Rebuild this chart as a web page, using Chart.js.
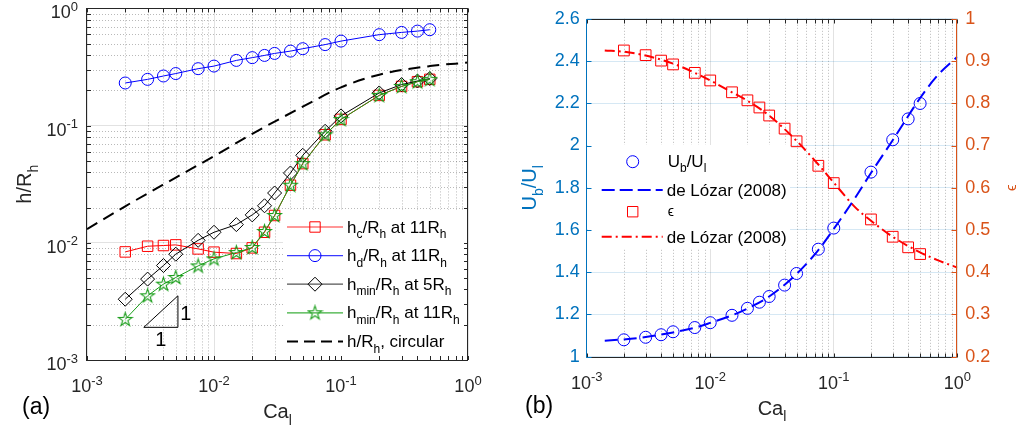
<!DOCTYPE html>
<html><head><meta charset="utf-8">
<script src="https://cdn.jsdelivr.net/npm/chart.js@4.4.1/dist/chart.umd.min.js"></script>
<style>
html,body{margin:0;padding:0;background:#fff;}
#wrap{position:relative;width:1019px;height:433px;background:#fff;}
canvas{position:absolute;left:0;top:0;}
</style></head><body>
<div id="wrap"><canvas id="ca" width="1019" height="433"></canvas><canvas id="cb" width="1019" height="433"></canvas></div>
<script>
const FONT = '"Liberation Sans", Arial, sans-serif';
const AX = '#262626';
const BLUE_AX = '#0072BD';
const ORANGE_AX = '#D95319';

// ---------- Panel (a) data ----------
const caA = [0.002,0.003,0.004,0.005,0.0075,0.01,0.015,0.02,0.025,0.03,0.04,0.05,0.075,0.1,0.2,0.3,0.4,0.5];
const hcA = [0.00836,0.00935,0.00948,0.0096,0.00887,0.00832,0.0081,0.00905,0.0123,0.0171,0.031,0.0474,0.0835,0.113,0.181,0.216,0.237,0.248];
const hdA = [0.231,0.248,0.265,0.278,0.306,0.322,0.360,0.380,0.397,0.413,0.432,0.453,0.491,0.526,0.597,0.624,0.640,0.658];
const hmin5A = [0.0033,0.0049,0.0064,0.0080,0.0105,0.0123,0.0143,0.0173,0.0207,0.0266,0.0394,0.0558,0.0894,0.121,0.190,0.224,0.240,0.252];
const hmin11A = [0.00222,0.00353,0.00444,0.00506,0.00635,0.0073,0.00826,0.00912,0.0125,0.0171,0.031,0.0474,0.0835,0.113,0.181,0.216,0.237,0.248];
const caCirc = [0.001,0.002,0.005,0.01,0.02,0.05,0.1,0.2,0.5,1.0];
const hCirc = [0.0131,0.0205,0.036,0.0549,0.085,0.145,0.212,0.272,0.322,0.345];
const triX = [0.0028,0.0052,0.0052,0.0028];
const triY = [0.0019,0.0019,0.00353,0.0019];
const decadeTicks = [0.001,0.01,0.1,1];
const decadeExp = ['-3','-2','-1','0'];

// ---------- Panel (b) data ----------
const caB = [0.002,0.003,0.004,0.005,0.0075,0.01,0.015,0.02,0.025,0.03,0.04,0.05,0.075,0.1,0.2,0.3,0.4,0.5];
const ubB = [1.080,1.092,1.104,1.118,1.138,1.161,1.196,1.229,1.258,1.285,1.339,1.394,1.509,1.609,1.874,2.027,2.126,2.199];
const epsB = [0.925,0.914,0.901,0.892,0.872,0.854,0.826,0.807,0.790,0.771,0.740,0.710,0.652,0.611,0.525,0.484,0.459,0.443];
const caLozar = [0.0014,0.002,0.003,0.005,0.0075,0.01,0.015,0.02,0.03,0.05,0.075,0.1,0.15,0.2,0.3,0.5,0.7,1.0];
const ubLozar = [1.076,1.082,1.093,1.115,1.137,1.160,1.196,1.228,1.285,1.392,1.505,1.605,1.755,1.870,2.025,2.225,2.335,2.420];
const epsLozar = [0.925,0.922,0.913,0.894,0.872,0.854,0.826,0.806,0.771,0.711,0.655,0.612,0.553,0.522,0.484,0.447,0.428,0.411];
const ubTicks = [1,1.2,1.4,1.6,1.8,2,2.2,2.4,2.6];
const epsTicks = [0.2,0.3,0.4,0.5,0.6,0.7,0.8,0.9,1];

const xy = (xs, ys) => xs.map((v, i) => ({x: v, y: ys[i]}));
const minorVals = [];
[-3,-2,-1].forEach(e => { for (let m = 2; m <= 9; m++) minorVals.push(m * Math.pow(10, e)); });

// pentagram marker
function makeStar(color) {
  const c = document.createElement('canvas');
  c.width = 17; c.height = 17;
  const g = c.getContext('2d');
  g.strokeStyle = color; g.lineWidth = 1.1;
  g.beginPath();
  const R = 7.2, r = R * 0.382;
  for (let i = 0; i < 10; i++) {
    const a = -Math.PI / 2 + i * Math.PI / 5;
    const rr = i % 2 ? r : R;
    const px = 8.5 + rr * Math.cos(a), py = 8.8 + rr * Math.sin(a);
    if (i) g.lineTo(px, py); else g.moveTo(px, py);
  }
  g.closePath(); g.stroke();
  return c;
}
const GREEN = '#1a9e1a';
const starImg = makeStar(GREEN);

function rich(ctx, parts, x, y, size, align, color) {
  const sub = Math.round(size * 0.72);
  let w = 0;
  const segs = parts.map(([t, m]) => {
    ctx.font = (m ? sub : size) + 'px ' + FONT;
    const sw = ctx.measureText(t).width; w += sw; return {t, m, sw};
  });
  let cx = align === 'center' ? x - w / 2 : (align === 'right' ? x - w : x);
  ctx.fillStyle = color; ctx.textAlign = 'left'; ctx.textBaseline = 'alphabetic';
  segs.forEach(s => {
    ctx.font = (s.m ? sub : size) + 'px ' + FONT;
    const dy = s.m === 1 ? size * 0.33 : (s.m === 2 ? -size * 0.42 : 0);
    ctx.fillText(s.t, cx, y + dy);
    cx += s.sw;
  });
}
function powLabel(ctx, exp, x, y, align, color) {
  ctx.font = '18px ' + FONT; const w1 = ctx.measureText('10').width;
  ctx.font = '13px ' + FONT; const w2 = ctx.measureText(exp).width;
  const w = w1 + w2;
  const sx = align === 'center' ? x - w / 2 : x - w;
  ctx.fillStyle = color; ctx.textAlign = 'left'; ctx.textBaseline = 'alphabetic';
  ctx.font = '18px ' + FONT; ctx.fillText('10', sx, y);
  ctx.font = '13px ' + FONT; ctx.fillText(exp, sx + w1, y - 7.5);
}
function seg(ctx, x1, y1, x2, y2) { ctx.beginPath(); ctx.moveTo(x1, y1); ctx.lineTo(x2, y2); ctx.stroke(); }
function crisp(v) { return Math.round(v) + 0.5; }

function marker(ctx, type, x, y, color) {
  ctx.save(); ctx.strokeStyle = color; ctx.lineWidth = 1; ctx.setLineDash([]);
  ctx.beginPath();
  if (type === 'circle') ctx.arc(x, y, 6, 0, Math.PI * 2);
  else if (type === 'rect') ctx.rect(x - 5.2, y - 5.2, 10.4, 10.4);
  else if (type === 'diamond') { ctx.moveTo(x - 7, y); ctx.lineTo(x, y - 7); ctx.lineTo(x + 7, y); ctx.lineTo(x, y + 7); ctx.closePath(); }
  if (type === 'star') ctx.drawImage(starImg, x - 8.5, y - 8.5);
  else ctx.stroke();
  ctx.restore();
}

// ---------- Plugin A ----------
const plugA = {
  id: 'plugA',
  beforeDatasetsDraw(chart) {
    const {ctx, chartArea: a, scales: {x, y}} = chart;
    ctx.save();
    ctx.strokeStyle = 'rgba(38,38,38,0.32)'; ctx.lineWidth = 1; ctx.setLineDash([1, 2]);
    minorVals.forEach(v => {
      const px = crisp(x.getPixelForValue(v)); seg(ctx, px, a.top, px, a.bottom);
      const py = crisp(y.getPixelForValue(v)); seg(ctx, a.left, py, a.right, py);
    });
    ctx.restore();
  },
  afterDatasetsDraw(chart) {
    const {ctx, chartArea: a, scales: {x, y}} = chart;
    ctx.save();
    // triangle labels
    const tx2 = x.getPixelForValue(triX[1]), tx1 = x.getPixelForValue(triX[0]);
    const ty1 = y.getPixelForValue(triY[0]), ty2 = y.getPixelForValue(triY[2]);
    ctx.font = '20px ' + FONT; ctx.fillStyle = '#000'; ctx.textAlign = 'center'; ctx.textBaseline = 'alphabetic';
    ctx.fillText('1', tx2 + 8, (ty1 + ty2) / 2 + 8);
    ctx.fillText('1', (tx1 + tx2) / 2, ty1 + 19);
    // legend
    const L = a.right - 185, T = a.bottom - 150;
    ctx.fillStyle = '#fff'; ctx.fillRect(L, T, a.right - 1 - L, a.bottom - 1 - T);
    const rows = [
      {c: '#ff3030', m: 'rect', mc: '#ff0000', t: [['h',0],['c',1],['/R',0],['h',1],[' at 11R',0],['h',1]]},
      {c: '#3a3aff', m: 'circle', mc: '#0000ff', t: [['h',0],['d',1],['/R',0],['h',1],[' at 11R',0],['h',1]]},
      {c: '#555555', m: 'diamond', mc: '#000000', t: [['h',0],['min',1],['/R',0],['h',1],[' at 5R',0],['h',1]]},
      {c: '#3caf3c', m: 'star', mc: GREEN, t: [['h',0],['min',1],['/R',0],['h',1],[' at 11R',0],['h',1]]},
      {c: '#000000', m: null, dash: [11, 6], w: 2, t: [['h/R',0],['h',1],[', circular',0]]}
    ];
    rows.forEach((r, i) => {
      const ry = T + 17 + i * 28.6;
      ctx.save(); ctx.strokeStyle = r.c; ctx.lineWidth = r.w || 1.2; ctx.setLineDash(r.dash || []);
      seg(ctx, L + 4, ry, L + 60, ry); ctx.restore();
      if (r.m) marker(ctx, r.m, L + 32, ry, r.mc);
      rich(ctx, r.t, L + 64, ry + 5.5, 17, 'left', '#000');
    });
    // box
    ctx.strokeStyle = AX; ctx.lineWidth = 1; ctx.setLineDash([]);
    ctx.strokeRect(crisp(a.left) - 1, crisp(a.top), Math.round(a.right - a.left), Math.round(a.bottom - a.top));
    const tl = 4;
    decadeTicks.concat(minorVals).forEach(v => {
      const px = crisp(x.getPixelForValue(v));
      seg(ctx, px, a.bottom, px, a.bottom - tl); seg(ctx, px, a.top, px, a.top + tl);
      const py = crisp(y.getPixelForValue(v));
      seg(ctx, a.left, py, a.left + tl, py); seg(ctx, a.right, py, a.right - tl, py);
    });
    // tick labels
    decadeTicks.forEach((v, i) => {
      powLabel(ctx, decadeExp[i], x.getPixelForValue(v), a.bottom + 32, 'center', AX);
      powLabel(ctx, decadeExp[i], a.left - 9, y.getPixelForValue(v) + 10, 'right', AX);
    });
    // axis titles
    rich(ctx, [['Ca',0],['l',1]], (a.left + a.right) / 2, a.bottom + 58, 20, 'center', AX);
    ctx.save(); ctx.translate(31, (a.top + a.bottom) / 2); ctx.rotate(-Math.PI / 2);
    rich(ctx, [['h/R',0],['h',1]], 0, 0, 20, 'center', AX); ctx.restore();
    ctx.font = '23px ' + FONT; ctx.fillStyle = '#000'; ctx.textAlign = 'left';
    ctx.fillText('(a)', 22, a.bottom + 54);
    ctx.restore();
  }
};

const decadeAfterBuild = s => { s.ticks = decadeTicks.map(v => ({value: v, major: true})); };

new Chart(document.getElementById('ca'), {
  type: 'line',
  data: {
    datasets: [
      {data: xy(caA, hmin11A), order: 0, borderColor: GREEN, borderWidth: 1, pointStyle: starImg, pointRadius: 7, tension: 0},
      {data: xy(caA, hmin5A), order: 1, borderColor: '#000', borderWidth: 1, pointStyle: 'rectRot', pointRadius: 7, pointBorderColor: '#000', pointBackgroundColor: 'rgba(0,0,0,0)', pointBorderWidth: 1, tension: 0},
      {data: xy(caA, hdA), order: 2, borderColor: '#0000ff', borderWidth: 1, pointStyle: 'circle', pointRadius: 6, pointBorderColor: '#0000ff', pointBackgroundColor: 'rgba(0,0,0,0)', pointBorderWidth: 1, tension: 0},
      {data: xy(caA, hcA), order: 3, borderColor: '#ff0000', borderWidth: 1, pointStyle: 'rect', pointRadius: 7.4, pointBorderColor: '#ff0000', pointBackgroundColor: 'rgba(0,0,0,0)', pointBorderWidth: 1, tension: 0},
      {data: xy(caCirc, hCirc), order: 4, borderColor: '#000', borderWidth: 2, borderDash: [12, 7], pointRadius: 0, cubicInterpolationMode: 'monotone'},
      {data: xy(triX, triY), order: 5, borderColor: '#000', borderWidth: 1, pointRadius: 0, tension: 0}
    ]
  },
  options: {
    responsive: false, animation: false, events: [],
    layout: {padding: {left: 0, right: 1019 - 468, top: 8, bottom: 0}},
    plugins: {legend: {display: false}, tooltip: {enabled: false}},
    scales: {
      x: {type: 'logarithmic', min: 0.001, max: 1, afterBuildTicks: decadeAfterBuild,
          afterFit: s => { s.height = 433 - 360; },
          ticks: {display: false}, border: {display: false},
          grid: {color: '#e2e2e2', drawTicks: false, lineWidth: 1}},
      y: {type: 'logarithmic', min: 0.001, max: 1, afterBuildTicks: decadeAfterBuild,
          afterFit: s => { s.width = 87; },
          ticks: {display: false}, border: {display: false},
          grid: {color: '#e2e2e2', drawTicks: false, lineWidth: 1}}
    }
  },
  plugins: [plugA]
});

// ---------- Plugin B ----------
const plugB = {
  id: 'plugB',
  beforeDatasetsDraw(chart) {
    const {ctx, chartArea: a, scales: {x}} = chart;
    ctx.save();
    ctx.strokeStyle = 'rgba(38,38,38,0.32)'; ctx.lineWidth = 1; ctx.setLineDash([1, 2]);
    minorVals.forEach(v => { const px = crisp(x.getPixelForValue(v)); seg(ctx, px, a.top, px, a.bottom); });
    ctx.restore();
  },
  afterDatasetsDraw(chart) {
    const {ctx, chartArea: a, scales: {x, y, y2}} = chart;
    ctx.save();
    // legend
    const L = a.left + 1, T = 145, R = 790, B = 249;
    ctx.fillStyle = '#fff'; ctx.fillRect(L, T, R - L, B - T);
    marker(ctx, 'circle', L + 45, T + 16.7, '#0000ff');
    rich(ctx, [['U',0],['b',1],['/U',0],['l',1]], L + 80, T + 21.7, 17, 'left', '#000');
    ctx.save(); ctx.strokeStyle = '#0000ff'; ctx.lineWidth = 2; ctx.setLineDash([13, 5]);
    seg(ctx, L + 14, T + 45, L + 75, T + 45); ctx.restore();
    rich(ctx, [['de Lózar (2008)',0]], L + 79, T + 51, 17, 'left', '#000');
    marker(ctx, 'rect', L + 45, T + 66.7, '#ff0000');
    rich(ctx, [['ϵ',0]], L + 80, T + 71, 14, 'left', '#000');
    ctx.save(); ctx.strokeStyle = '#ff0000'; ctx.lineWidth = 2; ctx.setLineDash([10, 4, 2, 4]);
    seg(ctx, L + 14, T + 91.7, L + 75, T + 91.7); ctx.restore();
    rich(ctx, [['de Lózar (2008)',0]], L + 79, T + 97.7, 17, 'left', '#000');
    // box
    ctx.lineWidth = 1; ctx.setLineDash([]);
    const l = crisp(a.left) - 1, r = crisp(a.right) - 1, t = crisp(a.top), b = crisp(a.bottom);
    ctx.strokeStyle = AX; seg(ctx, l, t, r, t); seg(ctx, l, b, r, b);
    ctx.strokeStyle = BLUE_AX; seg(ctx, l, t, l, b);
    ctx.strokeStyle = ORANGE_AX; seg(ctx, r, t, r, b);
    ctx.strokeStyle = AX;
    decadeTicks.concat(minorVals).forEach(v => {
      const px = crisp(x.getPixelForValue(v));
      seg(ctx, px, b, px, b - 4); seg(ctx, px, t, px, t + 4);
    });
    ctx.strokeStyle = BLUE_AX;
    ubTicks.forEach(v => { const py = crisp(y.getPixelForValue(v)); seg(ctx, l, py, l + 5, py); });
    ctx.strokeStyle = ORANGE_AX;
    epsTicks.forEach(v => { const py = crisp(y2.getPixelForValue(v)); seg(ctx, r, py, r - 5, py); });
    decadeTicks.forEach((v, i) => powLabel(ctx, decadeExp[i], x.getPixelForValue(v), a.bottom + 32, 'center', AX));
    rich(ctx, [['Ca',0],['l',1]], (a.left + a.right) / 2, a.bottom + 58, 20, 'center', AX);
    ctx.save(); ctx.translate(536, (a.top + a.bottom) / 2); ctx.rotate(-Math.PI / 2);
    rich(ctx, [['U',0],['b',1],['/U',0],['l',1]], 0, 0, 20, 'center', BLUE_AX); ctx.restore();
    ctx.save(); ctx.translate(1016, (a.top + a.bottom) / 2); ctx.rotate(-Math.PI / 2);
    rich(ctx, [['ϵ',0]], 0, 0, 15, 'center', ORANGE_AX); ctx.restore();
    ctx.font = '23px ' + FONT; ctx.fillStyle = '#000'; ctx.textAlign = 'left';
    ctx.fillText('(b)', 525, a.bottom + 56);
    ctx.restore();
  }
};

const fmt = v => String(Number(v.toFixed(2)));
new Chart(document.getElementById('cb'), {
  type: 'line',
  data: {
    datasets: [
      {data: xy(caB, ubB), yAxisID: 'y', showLine: false, pointStyle: 'circle', pointRadius: 6, pointBorderColor: '#0000ff', pointBackgroundColor: 'rgba(0,0,0,0)', pointBorderWidth: 1},
      {data: xy(caLozar, ubLozar), yAxisID: 'y', borderColor: '#0000ff', borderWidth: 2, borderDash: [13, 6], pointRadius: 0, cubicInterpolationMode: 'monotone'},
      {data: xy(caB, epsB), yAxisID: 'y2', showLine: false, pointStyle: 'rect', pointRadius: 7.6, pointBorderColor: '#ff0000', pointBackgroundColor: 'rgba(0,0,0,0)', pointBorderWidth: 1},
      {data: xy(caLozar, epsLozar), yAxisID: 'y2', borderColor: '#ff0000', borderWidth: 2, borderDash: [10, 4, 2, 4], pointRadius: 0, cubicInterpolationMode: 'monotone'}
    ]
  },
  options: {
    responsive: false, animation: false, events: [],
    layout: {padding: {left: 0, right: 0, top: 9.5, bottom: 0}},
    plugins: {legend: {display: false}, tooltip: {enabled: false}},
    scales: {
      x: {type: 'logarithmic', min: 0.001, max: 1, afterBuildTicks: decadeAfterBuild,
          afterFit: s => { s.height = 433 - 356.7; },
          ticks: {display: false}, border: {display: false},
          grid: {color: '#e2e2e2', drawTicks: false}},
      y: {type: 'linear', position: 'left', min: 1, max: 2.6,
          afterBuildTicks: s => { s.ticks = ubTicks.map(v => ({value: v})); },
          afterFit: s => { s.width = 586.7; },
          ticks: {color: BLUE_AX, font: {family: FONT, size: 18}, padding: 7, callback: v => fmt(v)},
          border: {display: false},
          grid: {color: 'rgba(0,114,189,0.16)', drawTicks: false}},
      y2: {type: 'linear', position: 'right', min: 0.2, max: 1,
          afterBuildTicks: s => { s.ticks = epsTicks.map(v => ({value: v})); },
          afterFit: s => { s.width = 1019 - 957.3; },
          ticks: {color: ORANGE_AX, font: {family: FONT, size: 18}, padding: 8, callback: v => fmt(v)},
          border: {display: false},
          grid: {drawOnChartArea: false, drawTicks: false}}
    }
  },
  plugins: [plugB]
});
</script>
</body></html>
